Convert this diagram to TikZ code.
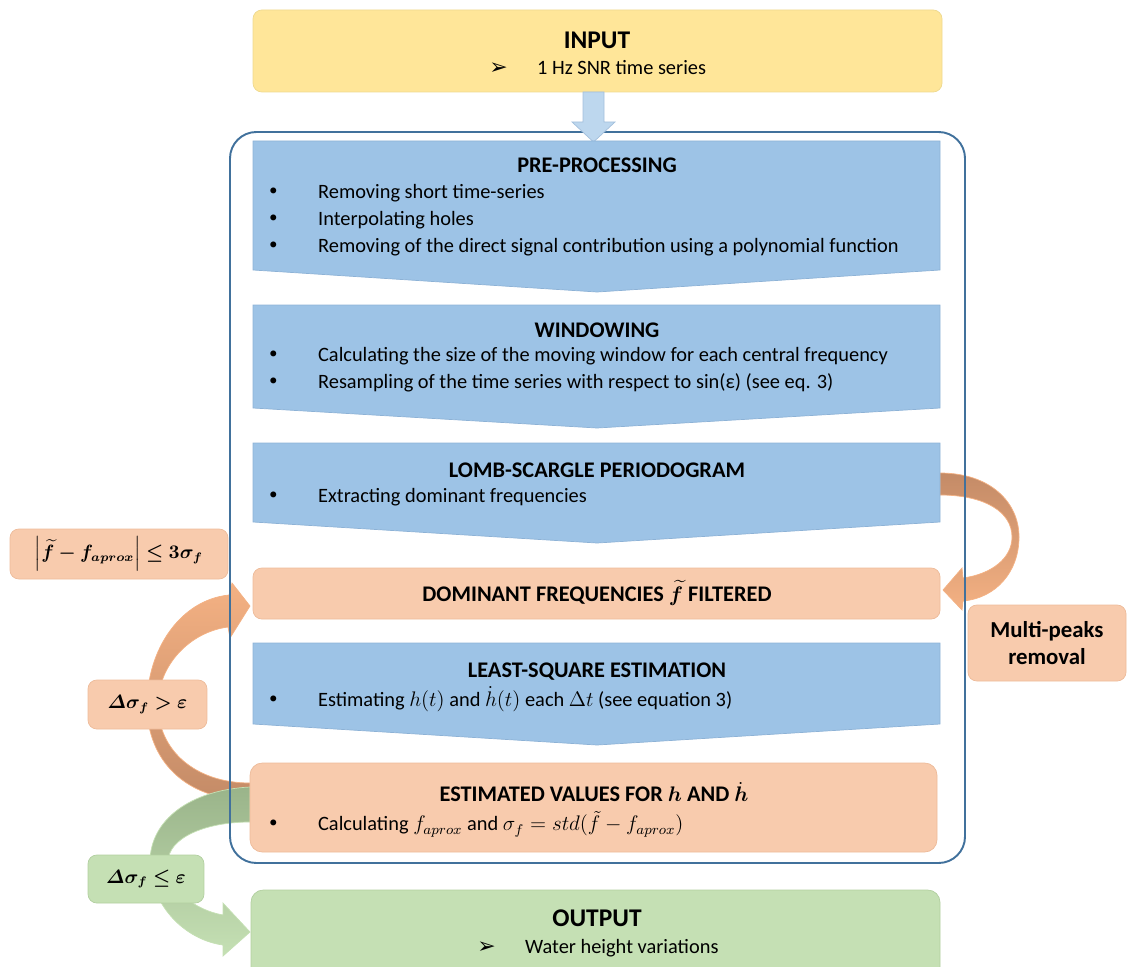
\documentclass[tikz,border=0pt]{standalone}
\usepackage{amsmath}
\usepackage{bm}
\usepackage{fontspec}
\setmainfont{Carlito}
\newfontfamily\symfont{DejaVu Sans}
\definecolor{boxblue}{HTML}{9DC3E6}
\definecolor{chevedge}{HTML}{8DB2D6}
\definecolor{boxyellow}{HTML}{FFE699}
\definecolor{yellowedge}{HTML}{EED98F}
\definecolor{boxorange}{HTML}{F8CBAD}
\definecolor{orangeedge}{HTML}{EDBB9A}
\definecolor{boxgreen}{HTML}{C5E0B4}
\definecolor{greenedge}{HTML}{B2CFA0}
\definecolor{framecol}{HTML}{41719C}
\definecolor{arrblue}{HTML}{BDD7EE}
\definecolor{arrblueedge}{HTML}{A3BFDC}
\definecolor{lightor}{HTML}{F4B183}
\definecolor{brownor}{HTML}{C48B67}
\definecolor{darkgreen}{HTML}{9AB48A}
\def\itm#1{\makebox[28.9pt][l]{\symfont •}#1}
\def\arr{\makebox[27.2pt][l]{\symfont\fontsize{12.5}{12}\selectfont ➢}}
\newcommand\chevron[3]{\filldraw[chev] (253,#1) -- (940,#1) -- (940,#2) -- (597,#3) -- (253,#2) -- cycle;}

\begin{document}
\begin{tikzpicture}[x=0.02cm,y=-0.02cm,
        ttl/.style={font=\fontsize{12.7}{15}\selectfont\bfseries, inner sep=0},
        bigttl/.style={font=\fontsize{14.5}{17}\selectfont\bfseries, inner sep=0},
        lst/.style={anchor=west, align=left, inner sep=0, font=\fontsize{11.6}{15.3}\selectfont},
        chev/.style={fill=boxblue, draw=chevedge, line width=0.4pt},
        lbl/.style={rounded corners=5pt, draw=orangeedge, fill=boxorange, line width=0.4pt,
            font=\fontsize{10.6}{13}\selectfont, inner sep=0}]
    \useasboundingbox (0,0) rectangle (1128,966);

    % curved arrows
    \shadedraw[top color=brownor, bottom color=lightor, draw=lightor, line width=0.4pt]
        (940,473) .. controls (990,473) and (1019,502) .. (1019,537)
        .. controls (1019,572) and (996,598) .. (963,601)
        -- (962,610) -- (943,590) -- (962,568) -- (963,578)
        .. controls (992,574) and (1012,558) .. (1012,537)
        .. controls (1012,512) and (985,495) .. (940,495) -- cycle;
    \shadedraw[top color=lightor, bottom color=brownor, draw=lightor, line width=0.4pt]
        (250,800) .. controls (185,800) and (147,760) .. (147,705)
        .. controls (147,650) and (180,600) .. (229,595)
        -- (232,583) -- (250,606) -- (230,638) -- (228,627)
        .. controls (190,632) and (158,665) .. (158,705)
        .. controls (158,750) and (195,783) .. (250,783) -- cycle;
    \shadedraw[top color=darkgreen, bottom color=boxgreen, draw=boxgreen, line width=0.4pt]
        (250,787) .. controls (190,790) and (150,820) .. (150,862)
        .. controls (150,905) and (185,940) .. (223,945)
        -- (223,956) -- (250,932) -- (223,903) -- (223,915)
        .. controls (195,910) and (168,890) .. (168,862)
        .. controls (168,838) and (205,822) .. (250,822) -- cycle;

    % frame
    \draw[framecol, line width=1.1pt, rounded corners=15pt] (230,132) rectangle (965,863);

    % input
    \filldraw[fill=boxyellow, draw=yellowedge, line width=0.4pt, rounded corners=5pt] (253,10) rectangle (942,92);
    \node[bigttl] (intitle) at (597,40) {INPUT};
    \node[lst] (inlist) at (489,68) {\arr 1 Hz SNR time series};
    \filldraw[fill=arrblue, draw=arrblueedge, line width=0.4pt]
        (583,92) -- (604,92) -- (604,122) -- (615,122) -- (593.5,142)
        -- (572,122) -- (583,122) -- cycle;

    % blue steps
    \chevron{141}{270}{292}
    \node[ttl] (pretitle) at (597,165) {PRE-PROCESSING};
    \node[lst] (prelist) at (267,220) {\itm{Removing short time-series}\\
        \itm{Interpolating holes}\\
        \itm{Removing of the direct signal contribution using a polynomial function}};

    \chevron{305}{408}{428}
    \node[ttl] (wintitle) at (597,330) {WINDOWING};
    \node[lst] (winlist) at (267,370) {\itm{Calculating the size of the moving window for each central frequency}\\
        \itm{Resampling of the time series with respect to sin(ε) (see eq. 3)}};

    \chevron{443}{522}{543}
    \node[ttl] (lomtitle) at (597,470) {LOMB-SCARGLE PERIODOGRAM};
    \node[lst] (lomlist) at (267,497) {\itm{Extracting dominant frequencies}};

    \filldraw[fill=boxorange, draw=orangeedge, line width=0.4pt, rounded corners=5pt] (253,568) rectangle (940,619);
    \node[ttl] (domtitle) at (597,593) {DOMINANT FREQUENCIES $\bm{\widetilde{f}}$ FILTERED};

    \chevron{643}{724}{745}
    \node[ttl] (lsqtitle) at (597,672) {LEAST-SQUARE ESTIMATION};
    \node[lst] (lsqlist) at (267,699) {\itm{Estimating $h(t)$ and $\dot{h}(t)$ each $\Delta t$ (see equation 3)}};

    \filldraw[fill=boxorange, draw=orangeedge, line width=0.4pt, rounded corners=7pt] (250,763) rectangle (937,852);
    \node[ttl] (esttitle) at (594,792) {ESTIMATED VALUES FOR $\bm{h}$ AND $\bm{\dot{h}}$};
    \node[lst] (estlist) at (267,824) {\itm{Calculating $f_{aprox}$ and $\sigma_f = std(\tilde{f} - f_{aprox})$}};

    % output
    \filldraw[fill=boxgreen, draw=greenedge, line width=0.4pt, rounded corners=7pt] (251,890) rectangle (940,985);
    \node[bigttl] (outtitle) at (597,918) {OUTPUT};
    \node[lst] (outlist) at (477,948) {\arr Water height variations};

    % side labels
    \node[lbl, minimum width=4.36cm, minimum height=1cm] (cond) at (119,554)
        {$\bm{\Bigl|\widetilde{f}-f_{aprox}\Bigr|\le 3\sigma_f}$};
    \node[lbl, minimum width=2.38cm, minimum height=0.98cm] (again) at (147.5,704.5)
        {$\bm{\varDelta\sigma_f > \varepsilon}$};
    \node[lbl, draw=greenedge, fill=boxgreen, minimum width=2.32cm, minimum height=0.96cm] (done) at (146,879)
        {$\bm{\varDelta\sigma_f \le \varepsilon}$};
    \node[lbl, align=center, minimum width=3.16cm, minimum height=1.52cm,
        font=\fontsize{13}{15.3}\selectfont\bfseries] (peaks) at (1047,643) {Multi-peaks\\removal};
\end{tikzpicture}
\end{document}
